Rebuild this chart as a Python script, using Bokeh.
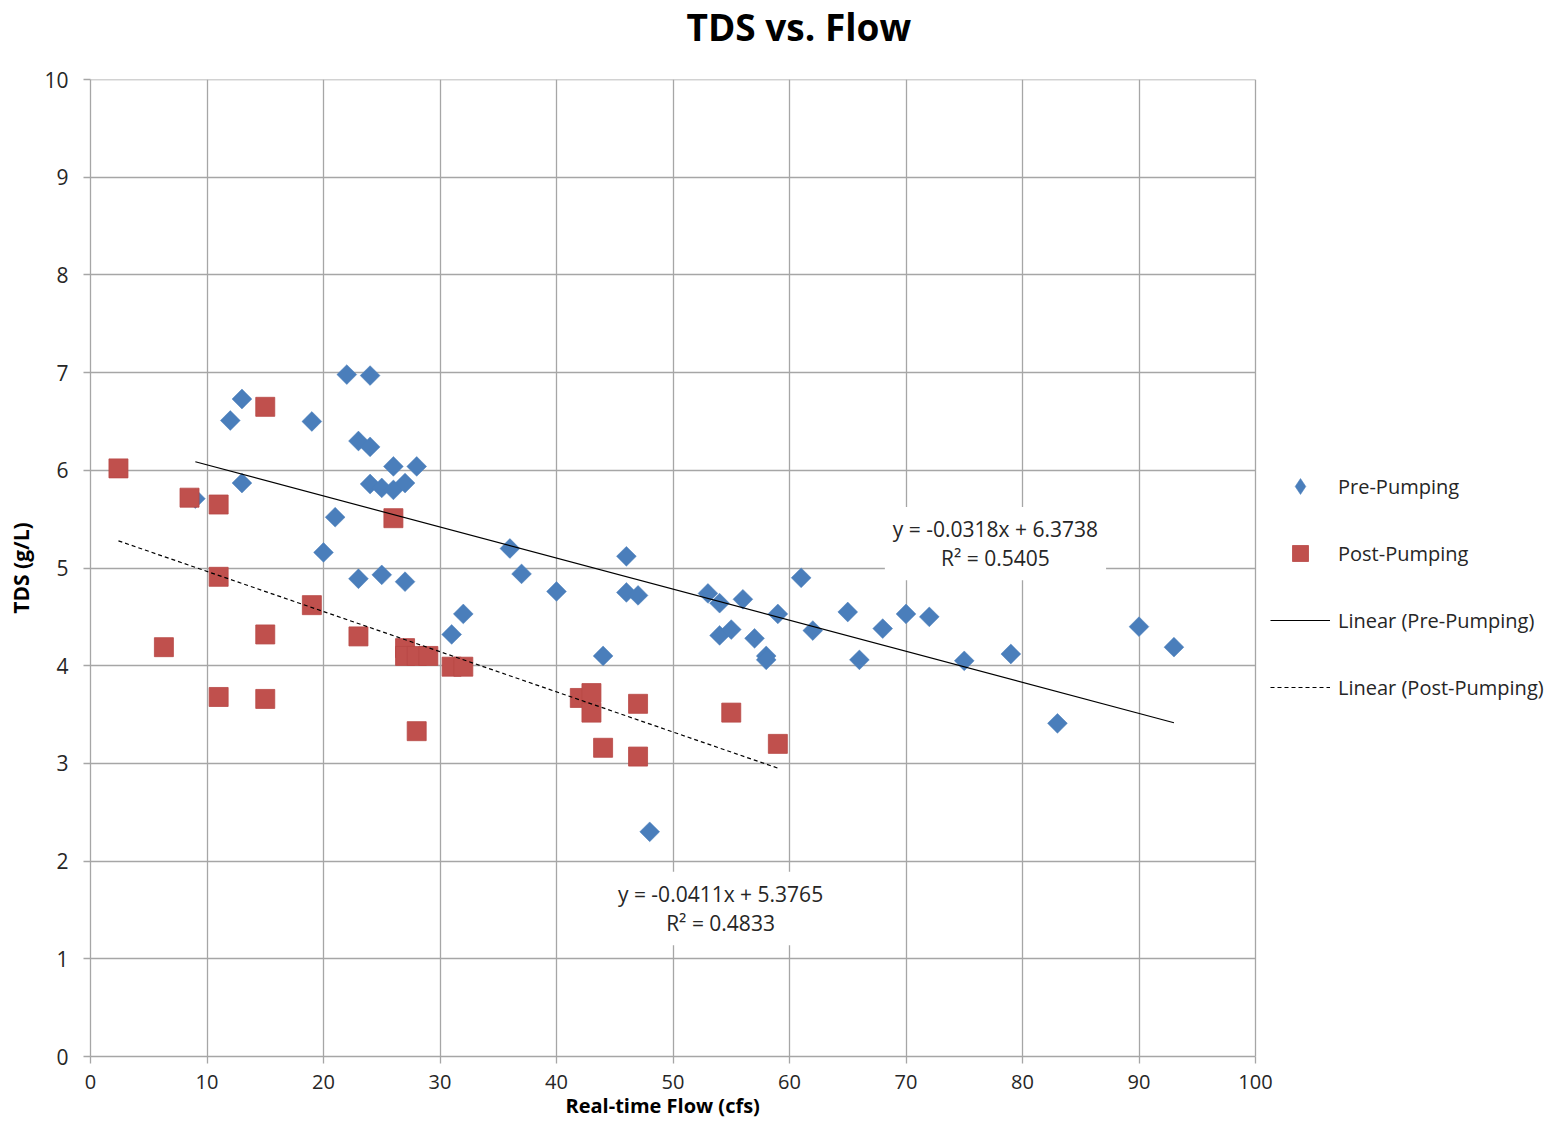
import numpy as np
from bokeh.plotting import figure
from bokeh.models import Range1d, FixedTicker, Label, Legend, LegendItem, Title, Grid
from bokeh.embed import file_html
from bokeh.resources import INLINE

# ---- data ----
pre_x = [9, 12, 13, 13, 19, 22, 24, 23, 24, 21, 20, 23, 25, 27, 24, 25, 26, 27, 26, 28,
         31, 32, 36, 37, 40, 46, 46, 47, 44, 48, 53, 54, 56, 54, 55, 57, 58, 58, 59, 61,
         62, 65, 66, 68, 70, 72, 75, 79, 83, 90, 93]
pre_y = [5.71, 6.51, 6.73, 5.87, 6.50, 6.98, 6.97, 6.30, 6.24, 5.52, 5.16, 4.89, 4.93, 4.86,
         5.86, 5.82, 5.80, 5.87, 6.04, 6.04, 4.32, 4.53, 5.20, 4.94, 4.76, 5.12, 4.75, 4.72,
         4.10, 2.30, 4.74, 4.64, 4.68, 4.31, 4.37, 4.28, 4.10, 4.06, 4.53, 4.90, 4.36, 4.55,
         4.06, 4.38, 4.53, 4.50, 4.05, 4.12, 3.41, 4.40, 4.19]
post_x = [2.4, 8.5, 11, 15, 26, 11, 19, 6.3, 15, 23, 27, 27, 28, 29, 31, 32, 11, 15, 28,
          42, 43, 43, 44, 47, 47, 55, 59]
post_y = [6.02, 5.72, 5.65, 6.65, 5.51, 4.91, 4.62, 4.19, 4.32, 4.30, 4.18, 4.10, 4.10,
          4.10, 3.99, 3.99, 3.68, 3.66, 3.33, 3.67, 3.72, 3.52, 3.16, 3.61, 3.07, 3.52, 3.20]

pre_slope, pre_intercept, pre_r2 = -0.0318, 6.3738, 0.5405
post_slope, post_intercept, post_r2 = -0.0411, 5.3765, 0.4833

x_ticks = [0, 10, 20, 30, 40, 50, 60, 70, 80, 90, 100]
y_ticks = [0, 1, 2, 3, 4, 5, 6, 7, 8, 9, 10]
X_MIN, X_MAX, Y_MIN, Y_MAX = 0, 100, 0, 10

FONT = "Open Sans"
TXT = "#262626"
GRID = "#a6a6a6"
BLUE = "#4A7EBB"
RED = "#C0504D"

# layout (pixels): plot area 90..1255 wide; the legend sits to the right of it
W, H = 1548, 1123
LEFT, RIGHT_PLOT, TOP, BOTTOM = 90, 1255, 79, 67
x_end = X_MAX * (W - LEFT) / (RIGHT_PLOT - LEFT)   # frame extends under the legend

p = figure(width=W, height=H, output_backend="svg", toolbar_location=None,
           x_range=Range1d(X_MIN, x_end), y_range=Range1d(Y_MIN, Y_MAX + 0.0005),
           title=None, min_border_left=LEFT, min_border_right=0, min_border_top=TOP,
           min_border_bottom=BOTTOM, background_fill_color="white",
           border_fill_color="white")
p.outline_line_color = None

for ax, ticks in ((p.xaxis, x_ticks), (p.yaxis, y_ticks)):
    ax.ticker = FixedTicker(ticks=ticks)
    ax.axis_line_color = GRID
    ax.axis_line_width = 1.3
    ax.major_tick_line_color = GRID
    ax.major_tick_line_width = 1.3
    ax.major_tick_in = 0
    ax.minor_tick_line_color = None
    ax.major_label_text_font = FONT
    ax.major_label_text_color = TXT
p.yaxis.major_label_text_font_size = "21px"
p.xaxis.major_label_text_font_size = "20px"
p.xaxis.bounds = (X_MIN, X_MAX)
p.xaxis.major_tick_out = 7
p.xaxis.major_label_standoff = 11
p.yaxis.major_tick_out = 7
p.yaxis.major_label_standoff = 15
p.yaxis.axis_label = "TDS (g/L)"
p.yaxis.axis_label_standoff = 6
p.yaxis.axis_label_text_font = FONT
p.yaxis.axis_label_text_font_size = "21px"
p.yaxis.axis_label_text_font_style = "bold"
p.yaxis.axis_label_text_color = "#000000"

# x-axis title, placed under the plot area (not under the whole frame)
p.add_layout(Title(text="Real-time Flow (cfs)", align="left", offset=475, standoff=-3,
                   vertical_align="bottom", text_font=FONT, text_font_size="20px",
                   text_font_style="bold", text_color="#000000"), "below")

p.xgrid.ticker = FixedTicker(ticks=x_ticks)
p.ygrid.ticker = FixedTicker(ticks=y_ticks)
p.xgrid.grid_line_color = GRID
p.xgrid.grid_line_width = 1.3
if "cross_bounds" in Grid.properties():
    p.ygrid.cross_bounds = (X_MIN, X_MAX)
    p.ygrid.grid_line_color = GRID
    p.ygrid.grid_line_width = 1.3
else:
    p.ygrid.visible = False
    p.segment(x0=[X_MIN] * len(y_ticks), x1=[X_MAX] * len(y_ticks), y0=y_ticks,
              y1=y_ticks, line_color=GRID, line_width=1.3, level="underlay")

r_pre = p.scatter(pre_x, pre_y, marker="square", angle=np.pi / 4, size=14,
                  fill_color=BLUE, line_color=BLUE, line_width=0.5)
r_post = p.scatter(post_x, post_y, marker="square", size=19,
                   fill_color=RED, line_color="#B84845", line_width=0.8)
# legend swatch for the diamond series (legend glyphs ignore marker rotation)
r_pre_key = p.scatter(pre_x, pre_y, marker="diamond", size=0, fill_color=BLUE,
                      line_color=BLUE, line_width=0.5)

px = np.array([min(pre_x), max(pre_x)], dtype=float)
qx = np.array([min(post_x), max(post_x)], dtype=float)
r_pre_lin = p.line(px, pre_slope * px + pre_intercept, line_color="black", line_width=1.2)
r_post_lin = p.line(qx, post_slope * qx + post_intercept, line_color="black",
                    line_width=1.2, line_dash="4 3")

# trendline equations
p.add_layout(Label(x=77.68, y=5.25, text=f"y = {pre_slope}x + {pre_intercept}\nR² = {pre_r2}",
                   text_align="center", text_baseline="middle", text_font=FONT,
                   text_font_size="21px", text_color=TXT, text_line_height=1.05,
                   background_fill_color="white", padding=8))
p.add_layout(Label(x=54.08, y=1.515, text=f"y = {post_slope}x + {post_intercept}\nR² = {post_r2}",
                   text_align="center", text_baseline="middle", text_font=FONT,
                   text_font_size="21px", text_color=TXT, text_line_height=1.05,
                   background_fill_color="white", padding=8))

# chart title: a thin spacer panel next to the frame, then the title at the top
p.add_layout(Title(text=" ", text_font_size="1px", standoff=23), "above")
p.add_layout(Title(text="TDS vs. Flow", align="left", offset=596, standoff=0,
                   vertical_align="top", text_font=FONT, text_font_size="37px",
                   text_font_style="bold", text_color="#000000"), "above")

legend = Legend(items=[LegendItem(label="Pre-Pumping", renderers=[r_pre_key]),
                       LegendItem(label="Post-Pumping", renderers=[r_post]),
                       LegendItem(label="Linear (Pre-Pumping)", renderers=[r_pre_lin]),
                       LegendItem(label="Linear (Post-Pumping)", renderers=[r_post_lin])],
                location=(1180, 349), glyph_width=60, glyph_height=40, spacing=27,
                label_standoff=8, label_text_font=FONT, label_text_font_size="20px",
                label_text_color=TXT, border_line_color=None, background_fill_alpha=0,
                padding=0, margin=0)
p.add_layout(legend)

open("out.html", "w").write(file_html(p, INLINE))
